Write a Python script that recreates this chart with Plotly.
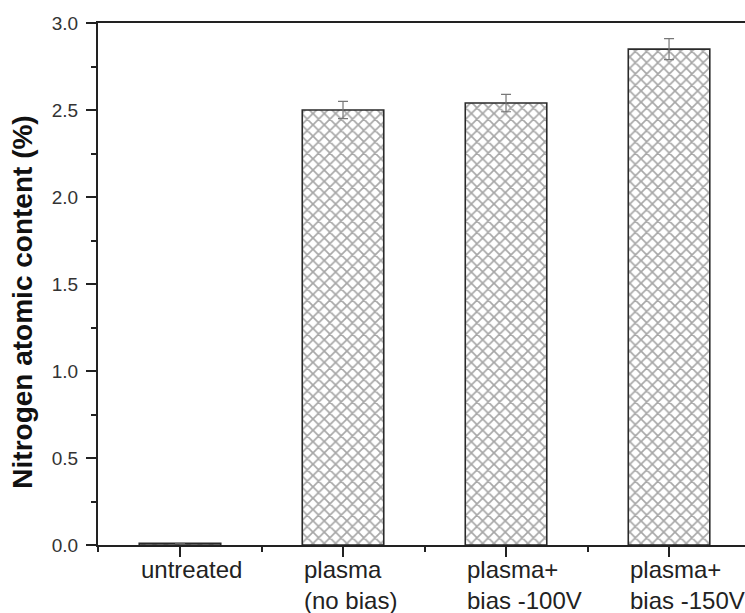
import plotly.graph_objects as go

categories = ["untreated", "plasma<br>(no bias)", "plasma+<br>bias -100V", "plasma+<br>bias -150V"]
positions = [1, 2, 3, 4]
values = [0.01, 2.50, 2.54, 2.85]
errors = [0.0, 0.05, 0.05, 0.06]
y_title = "Nitrogen atomic content (%)"

FONT = "Liberation Sans, Arial, sans-serif"
BAR_W = 0.5

fig = go.Figure()
fig.add_trace(go.Bar(
    x=positions, y=values, width=BAR_W,
    marker=dict(
        color="white",
        line=dict(color="#2a2a2a", width=1.6),
        pattern=dict(shape="x", size=8, solidity=0.38, fgcolor="#505050", bgcolor="white"),
    ),
    error_y=dict(type="data", array=errors, visible=True, color="#777777", thickness=1.2, width=5),
    showlegend=False,
))

for xp, lab in zip(positions, categories):
    fig.add_annotation(
        x=xp - BAR_W / 2, xref="x", y=0, yref="paper", yanchor="top", xanchor="left",
        yshift=-9, text=lab, showarrow=False, align="left",
        font=dict(family=FONT, size=24, color="#222"),
    )

fig.add_annotation(
    x=-0.118, xref="paper", y=0.4655, yref="paper", xanchor="center", yanchor="middle",
    text="<b>" + y_title + "</b>", textangle=-90, showarrow=False,
    font=dict(family=FONT, size=28, color="#111"),
)

fig.update_layout(
    width=745, height=613,
    margin=dict(l=98, r=0, t=23, b=68),
    paper_bgcolor="white", plot_bgcolor="white",
    font=dict(family=FONT, size=19, color="#333"),
    xaxis=dict(
        range=[0.497, 4.466], showticklabels=False,
        tickmode="array", tickvals=positions,
        ticks="outside", ticklen=10, tickwidth=1.5, tickcolor="#222",
        showline=True, linecolor="#222", linewidth=2, mirror=True,
        showgrid=False, zeroline=False,
        minor=dict(tickmode="array", tickvals=[0.5, 1.5, 2.5, 3.5, 4.5], ticks="outside",
                   ticklen=5, tickwidth=1.5, tickcolor="#222", showgrid=False),
    ),
    yaxis=dict(
        range=[0, 3.0], dtick=0.5, tickformat=".1f",
        ticks="outside", ticklen=10, tickwidth=1.5, tickcolor="#222",
        ticklabelstandoff=4,
        showline=True, linecolor="#222", linewidth=2, mirror=False,
        showgrid=False, zeroline=False,
        tickfont=dict(family=FONT, size=19, color="#333"),
        minor=dict(dtick=0.25, ticks="outside", ticklen=5, tickwidth=1.5, tickcolor="#222", showgrid=False),
    ),
)

fig.write_html("out.html")
